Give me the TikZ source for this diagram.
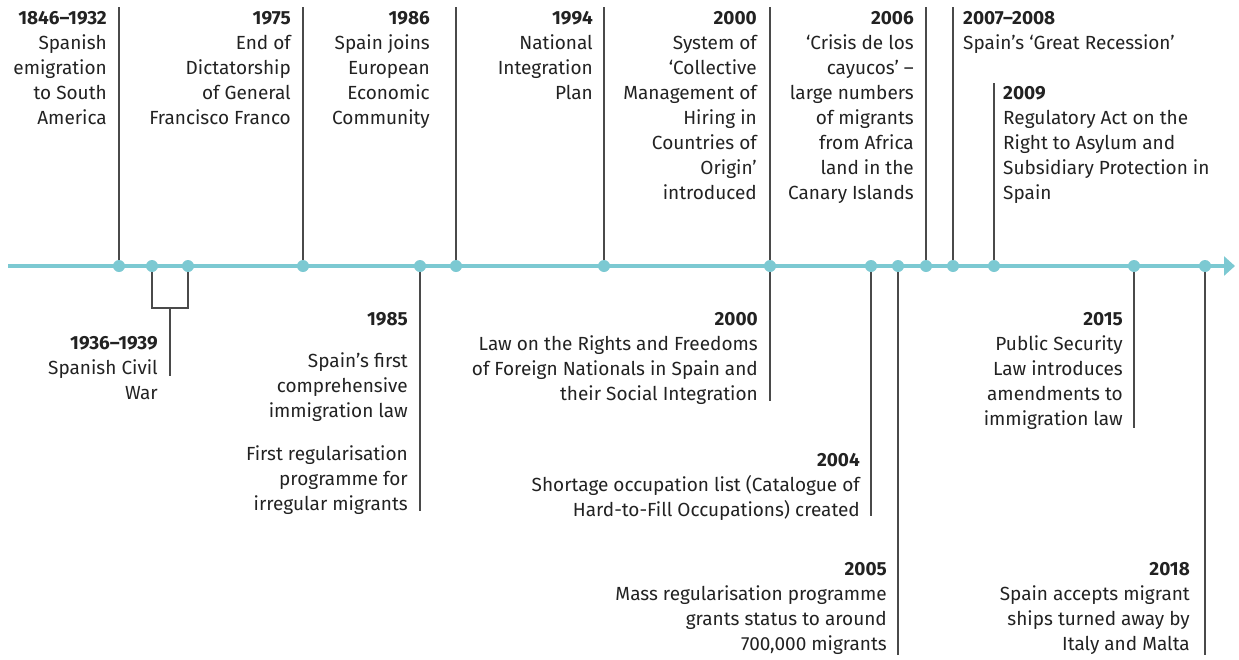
\documentclass[tikz,border=0pt]{standalone}
\usepackage{fontspec}
\setmainfont{Fira Sans}
\usetikzlibrary{arrows.meta}
\definecolor{tlcol}{HTML}{7CC9D2}
\definecolor{stemcol}{HTML}{4A4A4A}
\definecolor{txtcol}{HTML}{222222}
\newcommand\yr[1]{\rule{0pt}{14pt}\textbf{#1}}
\begin{document}
\begin{tikzpicture}[x=1pt,y=-1pt,
  lbl/.style={inner sep=0pt, font=\fontsize{19}{25}\selectfont, text=txtcol},
  lr/.style={lbl, anchor=north east, align=right},
  ll/.style={lbl, anchor=north west, align=left},
  stemline/.style={draw=stemcol, line width=1.1pt},
  dot/.style={circle, fill=tlcol, minimum size=12pt, inner sep=0pt}]
\useasboundingbox (0,0) rectangle (1239,659);

% timeline
\coordinate (tlL) at (8,266);
\coordinate (tlR) at (1235,266);
\draw[tlcol, line width=4pt, -{Triangle[length=11pt,width=19pt]}] (tlL) -- (tlR);

% dot positions
\coordinate (p1) at (119,266);
\coordinate (p2) at (152,266);
\coordinate (p3) at (188,266);
\coordinate (p4) at (303,266);
\coordinate (p5) at (420,266);
\coordinate (p6) at (456,266);
\coordinate (p7) at (604,266);
\coordinate (p8) at (770,266);
\coordinate (p9) at (871,266);
\coordinate (p10) at (898,266);
\coordinate (p11) at (926,266);
\coordinate (p12) at (953,266);
\coordinate (p13) at (994,266);
\coordinate (p14) at (1134,266);
\coordinate (p15) at (1205,266);

% top labels
\node[lr] (t1846) at (107,10) {\yr{1846–1932}\\Spanish\\emigration\\to South\\America};
\node[lr] (t1975) at (291,10) {\yr{1975}\\End of\\Dictatorship\\of General\\Francisco Franco};
\node[lr] (t1986) at (430,10) {\yr{1986}\\Spain joins\\European\\Economic\\Community};
\node[lr] (t1994) at (593,10) {\yr{1994}\\National\\Integration\\Plan};
\node[lr] (t2000a) at (757,10) {\yr{2000}\\System of\\‘Collective\\Management of\\Hiring in\\Countries of\\Origin’\\introduced};
\node[lr] (t2006) at (914,10) {\yr{2006}\\‘Crisis de los\\cayucos’ –\\large numbers\\of migrants\\from Africa\\land in the\\Canary Islands};
\node[ll] (t2007) at (963,10) {\yr{2007–2008}\\Spain’s ‘Great Recession’};
\node[ll] (t2009) at (1003,85) {\yr{2009}\\Regulatory Act on the\\Right to Asylum and\\Subsidiary Protection in\\Spain};

% bottom labels
\node[lr] (t1936) at (158,335) {\yr{1936–1939}\\Spanish Civil\\War};
\node[lr] (t1985) at (408,311) {\yr{1985}\\[17pt]Spain’s first\\comprehensive\\immigration law\\[18pt]First regularisation\\programme for\\irregular migrants};
\node[lr] (t2000b) at (758,311) {\yr{2000}\\Law on the Rights and Freedoms\\of Foreign Nationals in Spain and\\their Social Integration};
\node[lr] (t2004) at (860,452) {\yr{2004}\\Shortage occupation list (Catalogue of\\Hard-to-Fill Occupations) created};
\node[lr] (t2005) at (887,561) {\yr{2005}\\Mass regularisation programme\\grants status to around\\700,000 migrants};
\node[lr] (t2015) at (1123,311) {\yr{2015}\\Public Security\\Law introduces\\amendments to\\immigration law};
\node[lr] (t2018) at (1190,561) {\yr{2018}\\Spain accepts migrant\\ships turned away by\\Italy and Malta};

% stem ends
\coordinate (e1) at (119,7);
\coordinate (e4) at (303,7);
\coordinate (e6) at (456,7);
\coordinate (e7) at (604,7);
\coordinate (e8a) at (770,7);
\coordinate (e8b) at (770,401);
\coordinate (e11) at (926,7);
\coordinate (e12) at (953,7);
\coordinate (e13) at (994,83);
\coordinate (b2) at (152,308);
\coordinate (b3) at (188,308);
\coordinate (bm) at (170,308);
\coordinate (e23) at (170,376);
\coordinate (e5) at (420,511);
\coordinate (e9) at (871,516);
\coordinate (e10) at (898,655);
\coordinate (e14) at (1134,428);
\coordinate (e15) at (1205,655);

\draw[stemline] (p1) -- (e1);
\draw[stemline] (p4) -- (e4);
\draw[stemline] (p6) -- (e6);
\draw[stemline] (p7) -- (e7);
\draw[stemline] (p8) -- (e8a);
\draw[stemline] (p8) -- (e8b);
\draw[stemline] (p11) -- (e11);
\draw[stemline] (p12) -- (e12);
\draw[stemline] (p13) -- (e13);
\draw[stemline] (p2) -- (b2) -- (b3) -- (p3);
\draw[stemline] (bm) -- (e23);
\draw[stemline] (p5) -- (e5);
\draw[stemline] (p9) -- (e9);
\draw[stemline] (p10) -- (e10);
\draw[stemline] (p14) -- (e14);
\draw[stemline] (p15) -- (e15);

% dots
\foreach \i in {1,...,15} \node[dot] (d\i) at (p\i) {};
\end{tikzpicture}
\end{document}
